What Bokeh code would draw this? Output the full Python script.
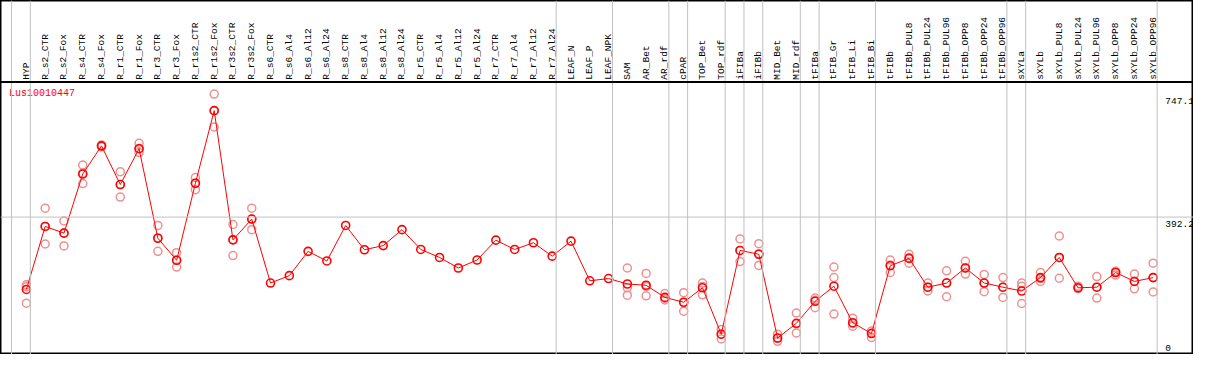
import math
from bokeh.plotting import figure
from bokeh.models import Range1d, Span
from bokeh.core.properties import value
from bokeh.embed import file_html
from bokeh.resources import INLINE

gene = "Lus10010447"

samples = ["HYP", "R_s2_CTR", "R_s2_Fox", "R_s4_CTR", "R_s4_Fox", "R_r1_CTR", "R_r1_Fox",
           "R_r3_CTR", "R_r3_Fox", "R_r1s2_CTR", "R_r1s2_Fox", "R_r3s2_CTR", "R_r3s2_Fox",
           "R_s6_CTR", "R_s6_Al4", "R_s6_Al12", "R_s6_Al24", "R_s8_CTR", "R_s8_Al4",
           "R_s8_Al12", "R_s8_Al24", "R_r5_CTR", "R_r5_Al4", "R_r5_Al12", "R_r5_Al24",
           "R_r7_CTR", "R_r7_Al4", "R_r7_Al12", "R_r7_Al24", "LEAF_N", "LEAF_P", "LEAF_NPK",
           "SAM", "AR_Bet", "AR_rdf", "cPAR", "TOP_Bet", "TOP_rdf", "iFIBa", "iFIBb",
           "MID_Bet", "MID_rdf", "tFIBa", "tFIB_Gr", "tFIB_Li", "tFIB_Bi", "tFIBb",
           "tFIBb_PUL8", "tFIBb_PUL24", "tFIBb_PUL96", "tFIBb_OPP8", "tFIBb_OPP24",
           "tFIBb_OPP96", "sXYLa", "sXYLb", "sXYLb_PUL8", "sXYLb_PUL24", "sXYLb_PUL96",
           "sXYLb_OPP8", "sXYLb_OPP24", "sXYLb_OPP96"]

means = [183.5, 365.2, 345.9, 516.5, 597.7, 486.1, 589.4, 331.2, 267.5, 489.8, 699.2,
         326.5, 386.5, 202.0, 223.3, 293.3, 265.6, 368.0, 298.0, 309.9, 356.0, 298.8,
         275.8, 245.3, 268.4, 325.6, 298.8, 318.2, 279.5, 322.8, 208.4, 214.9, 199.2,
         195.6, 160.5, 146.6, 188.2, 54.4, 296.0, 285.0, 43.4, 85.8, 149.4, 192.8, 87.6,
         56.3, 251.8, 273.1, 190.0, 202.0, 245.4, 202.0, 190.0, 179.0, 217.7, 275.8,
         188.2, 190.0, 232.4, 206.6, 217.7]

replicates = [
    [197, 191, 144], [417.8, 314.6, 365], [381, 309, 346], [542.3, 488.9, 518],
    [600, 595, 598], [523, 450, 486], [605, 578.3, 590], [368, 293.3, 332],
    [289.6, 248, 268], [506.4, 471.3, 490], [747.1, 652, 699], [370.8, 281.3, 327],
    [417.8, 356, 386],
    [], [], [], [], [], [], [], [], [], [], [], [], [], [], [], [], [], [], [],
    [245.3, 188.2, 166.9], [229.7, 165.2, 192], [171.6, 153, 158], [174.3, 120.9, 146],
    [202, 168, 192], [68.3, 40.6, 54], [329.3, 263.8, 296], [315.4, 252.7, 286],
    [54.4, 34, 42], [115.3, 58.1, 84], [158.5, 130.9, 152], [248.2, 217.7, 112.6],
    [100.5, 77.5, 85], [45.2, 63.6, 58], [268.4, 232.4, 254], [285, 259.3, 275],
    [202, 179, 190], [237.1, 162.4, 203], [264.8, 227.7, 245], [226.9, 177.1, 202],
    [217.7, 160.5, 190], [202, 192.8, 143], [232.4, 206.6, 215], [337.6, 215.8, 275],
    [192.8, 186], [220.5, 158.5, 190], [236, 225, 234], [227.7, 185.4, 207],
    [259.3, 176.3, 218],
]

# index of the last sample in each group (-1 = left edge line)
group_ends = [-1, 0, 28, 31, 34, 35, 37, 38, 39, 41, 42, 45, 52, 53, 60]

y_top_label = 747.1
y_mid_label = 392.2
y_zero_label = 0

n = len(samples)
xs = list(range(n))

# pixel-derived layout constants (reference 1209x370 canvas)
px_per_col = 19.0
x0_px = 26.7
px_per_unit = 270.0 / 747.1
y0_px = 368.0


def col_of(px):
    return (px - x0_px) / px_per_col


def val_of(py):
    return (y0_px - py) / px_per_unit


FONT = value("Liberation Mono")

p = figure(width=1193, height=354,
           x_range=Range1d(col_of(0.5), col_of(1207.5)),
           y_range=Range1d(val_of(369.5), val_of(0.5)),
           output_backend="svg", toolbar_location=None,
           x_axis_location=None, y_axis_location=None, min_border=0)
p.grid.visible = False
p.outline_line_color = "black"
p.outline_line_width = 2
p.background_fill_color = "white"
p.border_fill_color = "white"

grey = "#c0c0c0"
for g in group_ends:
    p.add_layout(Span(location=g + 0.21, dimension="height", line_color=grey, line_width=1))
p.add_layout(Span(location=y_mid_label, dimension="width", line_color=grey, line_width=1))
p.add_layout(Span(location=val_of(85.5), dimension="width", line_color="black", line_width=2))

# column labels
p.text(x=xs, y=[val_of(83)] * n, text=samples, angle=math.pi / 2,
       text_align="left", text_baseline="middle",
       text_font=FONT, text_font_size="9.5px", text_color="black")

# replicates
rx, ry = [], []
for i, r in enumerate(replicates):
    for v in r:
        rx.append(i)
        ry.append(v)
p.scatter(rx, ry, marker="circle", size=8, fill_color=None,
          line_color="#ee9090", line_width=1.5)

# mean line + markers
p.line(xs, means, line_color="red", line_width=1)
p.scatter(xs, means, marker="circle", size=8, fill_color=None,
          line_color="red", line_width=1.6)

# gene title
p.text(x=[col_of(9)], y=[val_of(92)], text=[gene], text_align="left", text_baseline="top",
       text_font=FONT, text_font_size="10px", text_color="red")

# right-side scale labels
lx = col_of(1179)
p.text(x=[lx, lx], y=[y_top_label, y_mid_label], text=[f"{y_top_label:.1f}", f"{y_mid_label:.1f}"],
       text_align="left", text_baseline="top", y_offset=4,
       text_font=FONT, text_font_size="9.5px", text_color="black")
p.text(x=[lx], y=[y_zero_label], text=[str(y_zero_label)],
       text_align="left", text_baseline="bottom", y_offset=-2,
       text_font=FONT, text_font_size="9.5px", text_color="black")

open("out.html", "w").write(file_html(p, INLINE))
